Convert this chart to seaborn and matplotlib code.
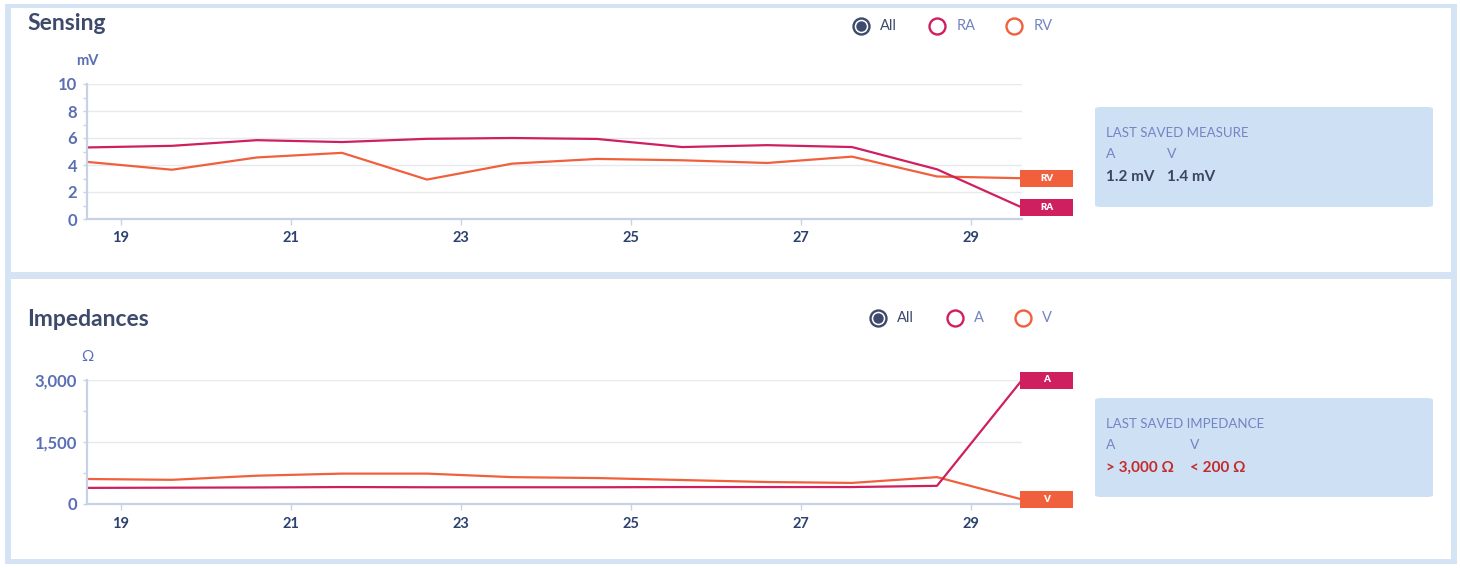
import matplotlib
matplotlib.use("Agg")
import matplotlib.pyplot as plt
import seaborn as sns
import pandas as pd
from matplotlib.patches import Rectangle, FancyBboxPatch
from matplotlib.lines import Line2D
from matplotlib.transforms import ScaledTranslation
from matplotlib.ticker import FixedLocator, FuncFormatter

# ---------------- data ----------------
days = [18.6, 19.6, 20.6, 21.6, 22.6, 23.6, 24.6, 25.6, 26.6, 27.6, 28.6, 29.6]
sensing_ra = [5.3, 5.42, 5.84, 5.7, 5.94, 6.0, 5.93, 5.33, 5.47, 5.33, 3.68, 0.85]
sensing_rv = [4.23, 3.65, 4.56, 4.9, 2.92, 4.1, 4.45, 4.35, 4.15, 4.62, 3.15, 3.02]
imp_a = [390, 395, 400, 410, 405, 405, 405, 410, 410, 410, 440, 3000]
imp_v = [605, 585, 685, 735, 735, 650, 628, 580, 532, 510, 650, 110]
x_ticks = [19, 21, 23, 25, 27, 29]
sensing_ticks = [0, 2, 4, 6, 8, 10]
sensing_minor = [1, 3, 5, 7, 9]
imp_ticks = [0, 1500, 3000]
imp_minor = [750, 2250]
sensing_names = ["RA", "RV"]
imp_names = ["A", "V"]

C_A = "#cf1f5f"
C_V = "#f1603d"
NAVY = "#3d4a6b"
TICKBLUE = "#5a6fb4"
LIGHTBLUE = "#7384c4"

sns.set_theme(style="white")
plt.rcParams["font.family"] = ["Lato", "DejaVu Sans"]

W, H = 1460, 568
fig = plt.figure(figsize=(W / 100, H / 100), dpi=100)


def fx(x):
    return x / W


def fy(y):
    return 1 - y / H


def frect(x0, y0, x1, y1, color, z=-10):
    fig.patches.append(Rectangle((fx(x0), fy(y1)), (x1 - x0) / W, (y1 - y0) / H,
                                 transform=fig.transFigure, facecolor=color,
                                 edgecolor="none", zorder=z))


# panel frames
frect(5, 4, 1457, 564, "#d4e4f5", -20)
frect(11, 8, 1451, 272, "white", -15)
frect(11, 279, 1451, 559, "white", -15)


def make_panel(top_px, bot_px, values, names, ticks, minor, ylim, fmt):
    ax = fig.add_axes([fx(87), fy(bot_px), (1022 - 87) / W, (bot_px - top_px) / H])
    ax.set_facecolor("none")
    df = pd.DataFrame({
        "day": days * 2,
        "value": values[0] + values[1],
        "lead": [names[0]] * len(days) + [names[1]] * len(days),
    })
    sns.lineplot(data=df, x="day", y="value", hue="lead",
                 palette={names[0]: C_A, names[1]: C_V},
                 hue_order=[names[1], names[0]],
                 linewidth=1.6, legend=False, ax=ax)
    for ln in ax.get_lines():
        ln.set_clip_on(False)
    ax.set_xlim(days[0], days[-1])
    ax.set_ylim(*ylim)
    ax.set_xlabel("")
    ax.set_ylabel("")
    ax.xaxis.set_major_locator(FixedLocator(x_ticks))
    ax.yaxis.set_major_locator(FixedLocator(ticks))
    ax.yaxis.set_minor_locator(FixedLocator(minor))
    ax.yaxis.set_major_formatter(FuncFormatter(fmt))
    ax.grid(axis="y", color="#e6e9ef", linewidth=1.0)
    ax.grid(axis="x", visible=False)
    for s in ["top", "right"]:
        ax.spines[s].set_visible(False)
    for s in ["left", "bottom"]:
        ax.spines[s].set_color("#c8d2e6")
        ax.spines[s].set_linewidth(1.6)
    ax.tick_params(axis="y", which="major", left=True, length=3, width=1,
                   color="#c8d2e6", labelsize=12, labelcolor=TICKBLUE, pad=4)
    ax.tick_params(axis="y", which="minor", left=True, length=3, width=1,
                   color="#c8d2e6")
    ax.tick_params(axis="x", which="major", bottom=True, length=4, width=1,
                   color="#c8d2e6", labelsize=10.5, labelcolor="#2c4170", pad=5)
    for lab in ax.get_xticklabels() + ax.get_yticklabels():
        lab.set_fontweight("bold")

    # end labels
    for vals, name, col in [(values[0], names[0], C_A), (values[1], names[1], C_V)]:
        tr = fig.dpi_scale_trans + ScaledTranslation(days[-1], vals[-1], ax.transData)
        ax.add_patch(Rectangle((-0.02, -0.085), 0.53, 0.17, transform=tr,
                               facecolor=col, edgecolor="none", clip_on=False, zorder=5))
        ax.text(0.245, 0.0, name, transform=tr, ha="center", va="center",
                color="white", fontsize=7, fontweight="heavy", zorder=6, clip_on=False)
    return ax


make_panel(84, 219, [sensing_ra, sensing_rv], sensing_names, sensing_ticks,
           sensing_minor, (0, 10), lambda v, p: f"{v:g}")
make_panel(380, 504, [imp_a, imp_v], imp_names, imp_ticks,
           imp_minor, (0, 3000), lambda v, p: f"{int(v):,}")

# titles and units
fig.text(fx(27), fy(23), "Sensing", ha="left", va="center", fontsize=16.5,
         fontweight="bold", color=NAVY)
fig.text(fx(27), fy(319), "Impedances", ha="left", va="center", fontsize=16.5,
         fontweight="bold", color=NAVY)
fig.text(fx(87), fy(61), "mV", ha="center", va="center", fontsize=10.5,
         fontweight="bold", color=TICKBLUE)
fig.text(fx(87), fy(357), "Ω", ha="center", va="center", fontsize=11,
         color=TICKBLUE)


def legend(y, items):
    for cx, tx, label, col, tcol, filled in items:
        fig.add_artist(Line2D([fx(cx)], [fy(y)], marker="o", markersize=11.5,
                              markerfacecolor="white", markeredgecolor=col,
                              markeredgewidth=1.7, transform=fig.transFigure))
        if filled:
            fig.add_artist(Line2D([fx(cx)], [fy(y)], marker="o", markersize=6.5,
                                  markerfacecolor=col, markeredgecolor=col,
                                  transform=fig.transFigure))
        fig.text(fx(tx), fy(y), label, ha="left", va="center", fontsize=10.5,
                 color=tcol)


legend(26, [(861, 880, "All", NAVY, NAVY, True),
            (937, 957, "RA", C_A, LIGHTBLUE, False),
            (1014, 1034, "RV", C_V, LIGHTBLUE, False)])
legend(318, [(878, 897, "All", NAVY, NAVY, True),
             (955, 974, "A", C_A, LIGHTBLUE, False),
             (1023, 1042, "V", C_V, LIGHTBLUE, False)])


def info_box(y0, y1, title, xv, vals, vcolor):
    fig.patches.append(FancyBboxPatch((fx(1095), fy(y1)), (1433 - 1095) / W, (y1 - y0) / H,
                                      boxstyle="round,pad=0,rounding_size=0.004",
                                      transform=fig.transFigure, facecolor="#cde0f4",
                                      edgecolor="none", zorder=-5))
    fig.text(fx(1106), fy(y0 + 26), title, ha="left", va="center", fontsize=9.5,
             color=LIGHTBLUE)
    fig.text(fx(1106), fy(y0 + 47), "A", ha="left", va="center", fontsize=10,
             color=LIGHTBLUE)
    fig.text(fx(xv), fy(y0 + 47), "V", ha="left", va="center", fontsize=10,
             color=LIGHTBLUE)
    fig.text(fx(1106), fy(y0 + 70), vals[0], ha="left", va="center", fontsize=11,
             fontweight="bold", color=vcolor)
    fig.text(fx(xv), fy(y0 + 70), vals[1], ha="left", va="center", fontsize=11,
             fontweight="bold", color=vcolor)


info_box(107, 207, "LAST SAVED MEASURE", 1167, ["1.2 mV", "1.4 mV"], "#3a4560")
info_box(398, 497, "LAST SAVED IMPEDANCE", 1190, ["> 3,000 Ω", "< 200 Ω"], "#c42b2b")

fig.savefig("out.png", dpi=100)
